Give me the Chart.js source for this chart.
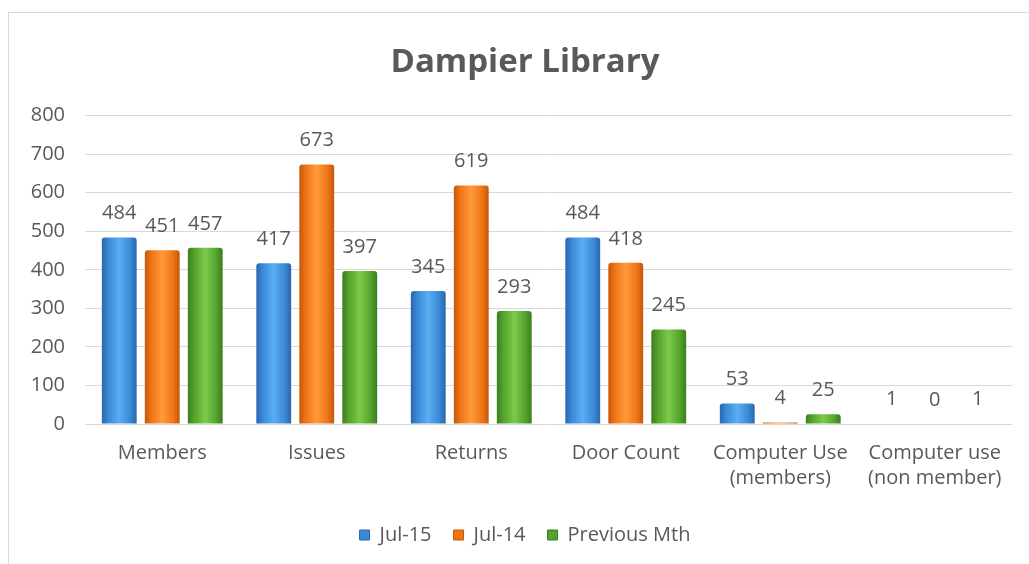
<!DOCTYPE html>
<html>
<head>
<meta charset="utf-8">
<script src="https://cdn.jsdelivr.net/npm/chart.js@4"></script>
<style>
  html, body { margin: 0; padding: 0; background: #fff; overflow: hidden; }
  #frame {
    position: absolute; left: 8px; top: 12px; width: 1100px; height: 600px;
    border: 1px solid #d9d9d9; box-sizing: border-box;
  }
  #wrap { position: absolute; left: 0; top: 0; width: 1029px; height: 564px; }
</style>
</head>
<body>
<div id="frame"></div>
<div id="wrap"><canvas id="chart"></canvas></div>
<script>
// ─── Datos ─────────────────────────────────────────────────────────────
const categories = [
  'Members', 'Issues', 'Returns', 'Door Count',
  ['Computer Use', '(members)'], ['Computer use', '(non member)']
];
const jul15 = [484, 417, 345, 484, 53, 1];
const jul14 = [451, 673, 619, 418, 4, 0];
const prevMth = [457, 397, 293, 245, 25, 1];
const yTicks = [0, 100, 200, 300, 400, 500, 600, 700, 800];

const TEXT = '#595959';
const FONT = "'Open Sans', sans-serif";

// colores: borde oscuro, medio, centro claro
const palette = {
  blue:   ['#2a66ad', '#3a88d6', '#5aaef0'],
  orange: ['#c4560a', '#ee7415', '#ff9a3c'],
  green:  ['#3b7d1f', '#52a22d', '#7ccb4a'],
};
const keys = ['blue', 'orange', 'green'];

// degradado horizontal tipo cilindro, usa la posición del elemento
function barFill(key) {
  const [edge, mid, hi] = palette[key];
  return (ctx) => {
    const el = ctx.element;
    if (!el || el.x === undefined || !el.width) return mid;
    const g = ctx.chart.ctx.createLinearGradient(el.x - el.width / 2, 0, el.x + el.width / 2, 0);
    g.addColorStop(0, edge);
    g.addColorStop(0.18, mid);
    g.addColorStop(0.5, hi);
    g.addColorStop(0.82, mid);
    g.addColorStop(1, edge);
    return g;
  };
}

// etiquetas de valor encima de cada barra
const valueLabels = {
  id: 'valueLabels',
  afterDatasetsDraw(chart) {
    const c = chart.ctx;
    c.save();
    c.font = '20px ' + FONT;
    c.fillStyle = TEXT;
    c.textAlign = 'center';
    c.textBaseline = 'middle';
    chart.data.datasets.forEach((ds, di) => {
      chart.getDatasetMeta(di).data.forEach((el, i) => {
        c.fillText(String(ds.data[i]), el.x, el.y - 24);
      });
    });
    c.restore();
  }
};

// el eje Y se ensancha a la izquierda para que sus etiquetas no se recorten
const widenY = {
  id: 'widenY',
  afterLayout(chart) { chart.scales.y.left = 0; }
};

const mk = (label, data, key) => ({
  label, data,
  backgroundColor: barFill(key),
  borderRadius: 3,
  borderSkipped: 'bottom',
  categoryPercentage: 0.835,
  barPercentage: 0.81,
});

const chart = new Chart(document.getElementById('chart'), {
  type: 'bar',
  data: {
    labels: categories,
    datasets: [
      mk('Jul-15', jul15, 'blue'),
      mk('Jul-14', jul14, 'orange'),
      mk('Previous Mth', prevMth, 'green'),
    ],
  },
  options: {
    responsive: true,
    maintainAspectRatio: false,
    animation: false,
    layout: { padding: { left: 38, right: 17, top: 12, bottom: 9 } },
    plugins: {
      title: {
        display: true,
        text: 'Dampier Library',
        color: TEXT,
        font: { family: FONT, size: 33, weight: 'bold' },
        padding: { top: 31, bottom: 33 },
      },
      legend: {
        position: 'bottom',
        labels: {
          color: TEXT,
          font: { family: FONT, size: 20 },
          boxWidth: 10,
          boxHeight: 10,
          padding: 22,
          generateLabels(chart) {
            return chart.data.datasets.map((ds, i) => ({
              text: ds.label,
              fillStyle: palette[keys[i]][1],
              strokeStyle: palette[keys[i]][0],
              lineWidth: 1,
              fontColor: TEXT,
              datasetIndex: i,
            }));
          },
        },
      },
      tooltip: { enabled: false },
    },
    scales: {
      x: {
        afterFit(scale) { scale.height -= 5; },
        grid: { display: false, drawTicks: false },
        border: { display: false },
        ticks: {
          color: TEXT,
          font: { family: FONT, size: 20, lineHeight: 1.25 },
          padding: 17,
          maxRotation: 0,
          autoSkip: false,
        },
      },
      y: {
        min: 0,
        max: 800,
        afterBuildTicks(scale) { scale.ticks = yTicks.map(v => ({ value: v })); },
        afterFit(scale) { scale.width = 47; },
        grid: { color: '#d9d9d9', drawTicks: false },
        border: { display: false },
        ticks: {
          color: TEXT,
          font: { family: FONT, size: 20 },
          padding: 20,
        },
      },
    },
  },
  plugins: [valueLabels, widenY],
});

// segunda pasada para que los degradados conozcan la posición de cada barra
chart.update();
</script>
</body>
</html>
